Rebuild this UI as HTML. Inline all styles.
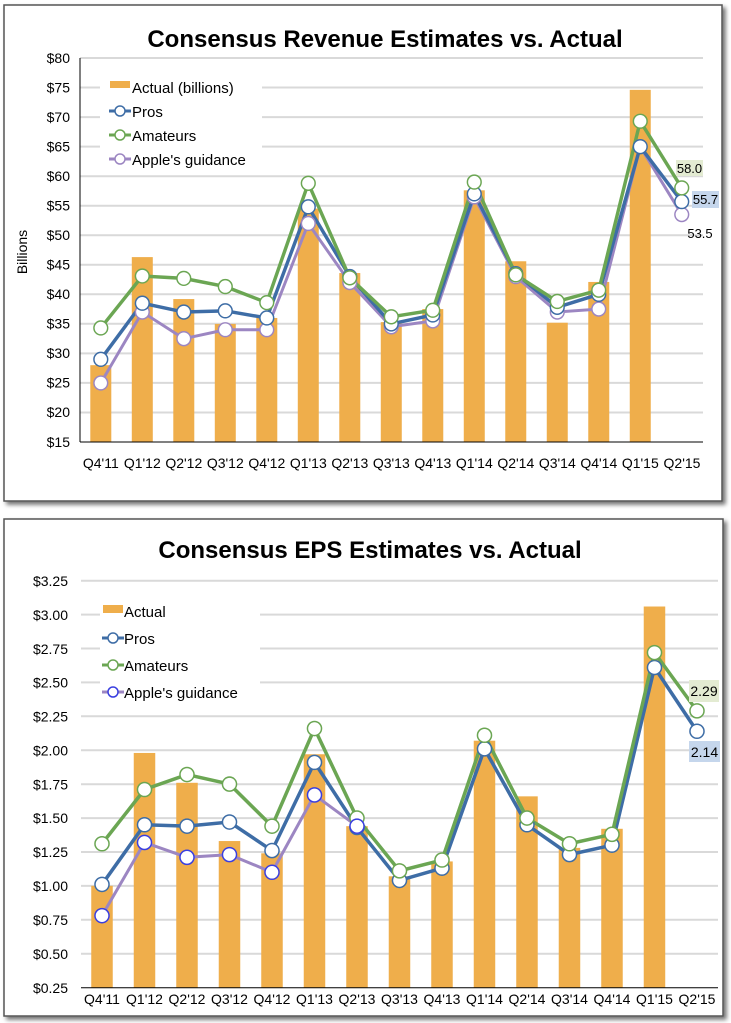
<!DOCTYPE html>
<html><head><meta charset="utf-8"><style>
body{margin:0;background:#fff;}
svg{display:block;font-family:"Liberation Sans",Arial,sans-serif;}
</style></head><body>
<svg width="731" height="1023" viewBox="0 0 731 1023">
<defs><filter id="sh" x="-5%" y="-5%" width="110%" height="110%"><feDropShadow dx="3" dy="3" stdDeviation="2" flood-color="#000" flood-opacity="0.55"/></filter></defs>
<!-- TOP PANEL -->
<rect x="4" y="5" width="718" height="496" fill="#fff" stroke="#555" stroke-width="1.5" filter="url(#sh)"/>
<text x="385" y="47" font-size="24" font-weight="bold" text-anchor="middle">Consensus Revenue Estimates vs. Actual</text>
<g stroke="#d9d9d9" stroke-width="2">
<line x1="80" x2="703" y1="58" y2="58"/><line x1="80" x2="703" y1="87.5" y2="87.5"/><line x1="80" x2="703" y1="117.1" y2="117.1"/><line x1="80" x2="703" y1="146.6" y2="146.6"/><line x1="80" x2="703" y1="176.2" y2="176.2"/><line x1="80" x2="703" y1="205.7" y2="205.7"/><line x1="80" x2="703" y1="235.2" y2="235.2"/><line x1="80" x2="703" y1="264.8" y2="264.8"/><line x1="80" x2="703" y1="294.3" y2="294.3"/><line x1="80" x2="703" y1="323.8" y2="323.8"/><line x1="80" x2="703" y1="353.4" y2="353.4"/><line x1="80" x2="703" y1="382.9" y2="382.9"/><line x1="80" x2="703" y1="412.5" y2="412.5"/>
</g>
<g font-size="14" text-anchor="end">
<text x="70" y="63">$80</text><text x="70" y="92.5">$75</text><text x="70" y="122">$70</text><text x="70" y="151.5">$65</text><text x="70" y="181">$60</text><text x="70" y="210.5">$55</text><text x="70" y="240">$50</text><text x="70" y="269.5">$45</text><text x="70" y="299">$40</text><text x="70" y="328.5">$35</text><text x="70" y="358">$30</text><text x="70" y="387.5">$25</text><text x="70" y="417">$20</text><text x="70" y="447">$15</text>
</g>
<text transform="translate(27,252) rotate(-90)" font-size="14" text-anchor="middle">Billions</text>
<g transform="translate(100.8,58) scale(0.981,0.9896) translate(-100,-58)">
<g fill="#EFAE4B">
<rect x="89.3" y="368.4" width="21.4" height="77.6"/><rect x="131.6" y="259.2" width="21.4" height="186.8"/><rect x="173.9" y="301.6" width="21.4" height="144.4"/><rect x="216.2" y="326.7" width="21.4" height="119.3"/><rect x="258.5" y="320.7" width="21.4" height="125.3"/><rect x="300.8" y="210.2" width="21.4" height="235.8"/><rect x="343.1" y="275.3" width="21.4" height="170.7"/><rect x="385.4" y="324.9" width="21.4" height="121.1"/><rect x="427.7" y="311.7" width="21.4" height="134.3"/><rect x="470" y="191.7" width="21.4" height="254.3"/><rect x="512.3" y="263.4" width="21.4" height="182.6"/><rect x="554.6" y="325.5" width="21.4" height="120.5"/><rect x="596.9" y="284.3" width="21.4" height="161.7"/><rect x="639.2" y="90.2" width="21.4" height="355.8"/>
</g>
<polyline fill="none" stroke="#9C86C2" stroke-width="3" points="100,386.4 142.3,314.7 184.6,341.6 226.9,332.6 269.2,332.6 311.5,225.2 353.8,284.9 396.1,329.6 438.4,323.7 480.7,198.3 523,278.9 565.3,314.7 607.6,311.7 649.9,147.6 692.2,216.2"/>
<polyline fill="none" stroke="#3E6DA6" stroke-width="3.5" points="100,362.5 142.3,305.8 184.6,314.7 226.9,313.5 269.2,320.7 311.5,208.4 353.8,278.9 396.1,326.7 438.4,317.7 480.7,195.3 523,275.9 565.3,309.9 607.6,296.8 649.9,147.6 692.2,203.1"/>
<polyline fill="none" stroke="#6BA653" stroke-width="3.5" points="100,330.8 142.3,278.3 184.6,280.7 226.9,289 269.2,305.2 311.5,184.6 353.8,280.1 396.1,319.5 438.4,312.9 480.7,183.4 523,277.1 565.3,304 607.6,292.6 649.9,121.9 692.2,189.3"/>
<g fill="#fff" stroke="#9C86C2" stroke-width="1.5">
<circle cx="100" cy="386.4" r="7"/><circle cx="142.3" cy="314.7" r="7"/><circle cx="184.6" cy="341.6" r="7"/><circle cx="226.9" cy="332.6" r="7"/><circle cx="269.2" cy="332.6" r="7"/><circle cx="311.5" cy="225.2" r="7"/><circle cx="353.8" cy="284.9" r="7"/><circle cx="396.1" cy="329.6" r="7"/><circle cx="438.4" cy="323.7" r="7"/><circle cx="480.7" cy="198.3" r="7"/><circle cx="523" cy="278.9" r="7"/><circle cx="565.3" cy="314.7" r="7"/><circle cx="607.6" cy="311.7" r="7"/><circle cx="692.2" cy="216.2" r="7"/>
</g>
<g fill="#fff" stroke="#3E6DA6" stroke-width="1.5">
<circle cx="100" cy="362.5" r="7"/><circle cx="142.3" cy="305.8" r="7"/><circle cx="184.6" cy="314.7" r="7"/><circle cx="226.9" cy="313.5" r="7"/><circle cx="269.2" cy="320.7" r="7"/><circle cx="311.5" cy="208.4" r="7"/><circle cx="353.8" cy="278.9" r="7"/><circle cx="396.1" cy="326.7" r="7"/><circle cx="438.4" cy="317.7" r="7"/><circle cx="480.7" cy="195.3" r="7"/><circle cx="523" cy="275.9" r="7"/><circle cx="565.3" cy="309.9" r="7"/><circle cx="607.6" cy="296.8" r="7"/><circle cx="649.9" cy="147.6" r="7"/><circle cx="692.2" cy="203.1" r="7"/>
</g>
<g fill="#fff" stroke="#6BA653" stroke-width="1.5">
<circle cx="100" cy="330.8" r="7"/><circle cx="142.3" cy="278.3" r="7"/><circle cx="184.6" cy="280.7" r="7"/><circle cx="226.9" cy="289" r="7"/><circle cx="269.2" cy="305.2" r="7"/><circle cx="311.5" cy="184.6" r="7"/><circle cx="353.8" cy="280.1" r="7"/><circle cx="396.1" cy="319.5" r="7"/><circle cx="438.4" cy="312.9" r="7"/><circle cx="480.7" cy="183.4" r="7"/><circle cx="523" cy="277.1" r="7"/><circle cx="565.3" cy="304" r="7"/><circle cx="607.6" cy="292.6" r="7"/><circle cx="649.9" cy="121.9" r="7"/><circle cx="692.2" cy="189.3" r="7"/>
</g>
</g>
<line x1="80" y1="58" x2="80" y2="442" stroke="#000" stroke-width="1"/>
<line x1="80" y1="442" x2="703" y2="442" stroke="#000" stroke-width="1"/>
<g font-size="14" text-anchor="middle">
<text x="100.8" y="468">Q4'11</text><text x="142.3" y="468">Q1'12</text><text x="183.8" y="468">Q2'12</text><text x="225.3" y="468">Q3'12</text><text x="266.8" y="468">Q4'12</text><text x="308.3" y="468">Q1'13</text><text x="349.8" y="468">Q2'13</text><text x="391.3" y="468">Q3'13</text><text x="432.8" y="468">Q4'13</text><text x="474.3" y="468">Q1'14</text><text x="515.8" y="468">Q2'14</text><text x="557.3" y="468">Q3'14</text><text x="598.8" y="468">Q4'14</text><text x="640.3" y="468">Q1'15</text><text x="682" y="468">Q2'15</text>
</g>
<rect x="100" y="75" width="162" height="96" fill="#fff"/>
<rect x="110" y="81" width="20" height="7" fill="#EFAE4B"/>
<line x1="109" x2="131" y1="111" y2="111" stroke="#3E6DA6" stroke-width="3"/><circle cx="120" cy="111" r="5" fill="#fff" stroke="#3E6DA6" stroke-width="1.5"/>
<line x1="109" x2="131" y1="135" y2="135" stroke="#6BA653" stroke-width="3"/><circle cx="120" cy="135" r="5" fill="#fff" stroke="#6BA653" stroke-width="1.5"/>
<line x1="109" x2="131" y1="159" y2="159" stroke="#9C86C2" stroke-width="3"/><circle cx="120" cy="159" r="5" fill="#fff" stroke="#9C86C2" stroke-width="1.5"/>
<g font-size="15"><text x="132" y="93">Actual (billions)</text><text x="132" y="117">Pros</text><text x="132" y="141">Amateurs</text><text x="132" y="165">Apple's guidance</text></g>
<rect x="676" y="160" width="27" height="16" fill="#E3EBD2"/><text x="689.5" y="173" font-size="13" text-anchor="middle">58.0</text>
<rect x="692" y="191" width="27" height="17" fill="#C5D6EC"/><text x="705.5" y="204" font-size="13" text-anchor="middle">55.7</text>
<text x="700" y="238" font-size="13" text-anchor="middle">53.5</text>

<!-- BOTTOM PANEL -->
<rect x="4" y="519" width="719" height="497" fill="#fff" stroke="#555" stroke-width="1.5" filter="url(#sh)"/>
<text x="370" y="558" font-size="24" font-weight="bold" text-anchor="middle">Consensus EPS Estimates vs. Actual</text>
<g stroke="#d9d9d9" stroke-width="2">
<line x1="81" x2="718" y1="580.7" y2="580.7"/><line x1="81" x2="718" y1="614.6" y2="614.6"/><line x1="81" x2="718" y1="648.5" y2="648.5"/><line x1="81" x2="718" y1="682.4" y2="682.4"/><line x1="81" x2="718" y1="716.3" y2="716.3"/><line x1="81" x2="718" y1="750.2" y2="750.2"/><line x1="81" x2="718" y1="784.2" y2="784.2"/><line x1="81" x2="718" y1="818.1" y2="818.1"/><line x1="81" x2="718" y1="852" y2="852"/><line x1="81" x2="718" y1="885.9" y2="885.9"/><line x1="81" x2="718" y1="919.8" y2="919.8"/><line x1="81" x2="718" y1="953.7" y2="953.7"/>
</g>
<g font-size="14" text-anchor="end">
<text x="68" y="586">$3.25</text><text x="68" y="620">$3.00</text><text x="68" y="654">$2.75</text><text x="68" y="687.5">$2.50</text><text x="68" y="721.5">$2.25</text><text x="68" y="755.5">$2.00</text><text x="68" y="789.5">$1.75</text><text x="68" y="823">$1.50</text><text x="68" y="857">$1.25</text><text x="68" y="891">$1.00</text><text x="68" y="925">$0.75</text><text x="68" y="959">$0.50</text><text x="68" y="993">$0.25</text>
</g>
<g transform="translate(102,580.7) scale(1.0047,1.0044) translate(-100,-582)">
<g fill="#EFAE4B">
<rect x="89.3" y="885.8" width="21.4" height="101.2"/><rect x="131.6" y="753.5" width="21.4" height="233.5"/><rect x="173.9" y="783.2" width="21.4" height="203.8"/><rect x="216.2" y="841.2" width="21.4" height="145.8"/><rect x="258.5" y="853.4" width="21.4" height="133.6"/><rect x="300.8" y="754.8" width="21.4" height="232.2"/><rect x="343.1" y="826.4" width="21.4" height="160.6"/><rect x="385.4" y="876.3" width="21.4" height="110.7"/><rect x="427.7" y="861.5" width="21.4" height="125.5"/><rect x="470" y="741.3" width="21.4" height="245.7"/><rect x="512.3" y="796.7" width="21.4" height="190.3"/><rect x="554.6" y="848" width="21.4" height="139"/><rect x="596.9" y="829" width="21.4" height="158"/><rect x="639.2" y="607.7" width="21.4" height="379.3"/>
</g>
<polyline fill="none" stroke="#9C86C2" stroke-width="3" points="100,915.5 142.3,842.6 184.6,857.4 226.9,854.7 269.2,872.3 311.5,795.3 353.8,826.4"/>
<polyline fill="none" stroke="#3E6DA6" stroke-width="3.5" points="100,884.4 142.3,825 184.6,826.4 226.9,822.3 269.2,850.7 311.5,762.9 353.8,827.7 396.1,880.4 438.4,868.2 480.7,749.4 523,825 565.3,854.7 607.6,845.3 649.9,668.4 692.2,731.9"/>
<polyline fill="none" stroke="#6BA653" stroke-width="3.5" points="100,843.9 142.3,789.9 184.6,775 226.9,784.5 269.2,826.4 311.5,729.2 353.8,818.3 396.1,870.9 438.4,860.1 480.7,735.9 523,818.3 565.3,843.9 607.6,834.5 649.9,653.6 692.2,711.6"/>
<g fill="#fff" stroke="#3E6DA6" stroke-width="1.5">
<circle cx="100" cy="884.4" r="7"/><circle cx="142.3" cy="825" r="7"/><circle cx="184.6" cy="826.4" r="7"/><circle cx="226.9" cy="822.3" r="7"/><circle cx="269.2" cy="850.7" r="7"/><circle cx="311.5" cy="762.9" r="7"/><circle cx="353.8" cy="827.7" r="7"/><circle cx="396.1" cy="880.4" r="7"/><circle cx="438.4" cy="868.2" r="7"/><circle cx="480.7" cy="749.4" r="7"/><circle cx="523" cy="825" r="7"/><circle cx="565.3" cy="854.7" r="7"/><circle cx="607.6" cy="845.3" r="7"/><circle cx="649.9" cy="668.4" r="7"/><circle cx="692.2" cy="731.9" r="7"/>
</g>
<g fill="#fff" stroke="#6BA653" stroke-width="1.5">
<circle cx="100" cy="843.9" r="7"/><circle cx="142.3" cy="789.9" r="7"/><circle cx="184.6" cy="775" r="7"/><circle cx="226.9" cy="784.5" r="7"/><circle cx="269.2" cy="826.4" r="7"/><circle cx="311.5" cy="729.2" r="7"/><circle cx="353.8" cy="818.3" r="7"/><circle cx="396.1" cy="870.9" r="7"/><circle cx="438.4" cy="860.1" r="7"/><circle cx="480.7" cy="735.9" r="7"/><circle cx="523" cy="818.3" r="7"/><circle cx="565.3" cy="843.9" r="7"/><circle cx="607.6" cy="834.5" r="7"/><circle cx="649.9" cy="653.6" r="7"/><circle cx="692.2" cy="711.6" r="7"/>
</g>
<g fill="#fff" stroke="#3A3FE0" stroke-width="1.5">
<circle cx="100" cy="915.5" r="7"/><circle cx="142.3" cy="842.6" r="7"/><circle cx="184.6" cy="857.4" r="7"/><circle cx="226.9" cy="854.7" r="7"/><circle cx="269.2" cy="872.3" r="7"/><circle cx="311.5" cy="795.3" r="7"/><circle cx="353.8" cy="826.4" r="7"/>
</g>
</g>
<line x1="81" y1="987.7" x2="718" y2="987.7" stroke="#000" stroke-width="1"/>
<g font-size="14" text-anchor="middle">
<text x="102" y="1004">Q4'11</text><text x="144.5" y="1004">Q1'12</text><text x="187" y="1004">Q2'12</text><text x="229.5" y="1004">Q3'12</text><text x="272" y="1004">Q4'12</text><text x="314.5" y="1004">Q1'13</text><text x="357" y="1004">Q2'13</text><text x="399.5" y="1004">Q3'13</text><text x="442" y="1004">Q4'13</text><text x="484.5" y="1004">Q1'14</text><text x="527" y="1004">Q2'14</text><text x="569.5" y="1004">Q3'14</text><text x="612" y="1004">Q4'14</text><text x="654.5" y="1004">Q1'15</text><text x="697" y="1004">Q2'15</text>
</g>
<rect x="100" y="598" width="160" height="104" fill="#fff"/>
<rect x="103" y="605" width="20" height="8" fill="#EFAE4B"/>
<line x1="102" x2="124" y1="638" y2="638" stroke="#3E6DA6" stroke-width="3"/><circle cx="113" cy="638" r="5" fill="#fff" stroke="#3E6DA6" stroke-width="1.5"/>
<line x1="102" x2="124" y1="665" y2="665" stroke="#6BA653" stroke-width="3"/><circle cx="113" cy="665" r="5" fill="#fff" stroke="#6BA653" stroke-width="1.5"/>
<line x1="102" x2="124" y1="692" y2="692" stroke="#9C86C2" stroke-width="3"/><circle cx="113" cy="692" r="5" fill="#fff" stroke="#3A3FE0" stroke-width="1.5"/>
<g font-size="15"><text x="124" y="617">Actual</text><text x="124" y="644">Pros</text><text x="124" y="671">Amateurs</text><text x="124" y="698">Apple's guidance</text></g>
<rect x="689" y="680" width="30" height="22" fill="#E3EBD2"/><text x="704" y="696" font-size="14" text-anchor="middle">2.29</text>
<rect x="689" y="741" width="31" height="21" fill="#C5D6EC"/><text x="704.5" y="757" font-size="14" text-anchor="middle">2.14</text>
</svg>
</body></html>
